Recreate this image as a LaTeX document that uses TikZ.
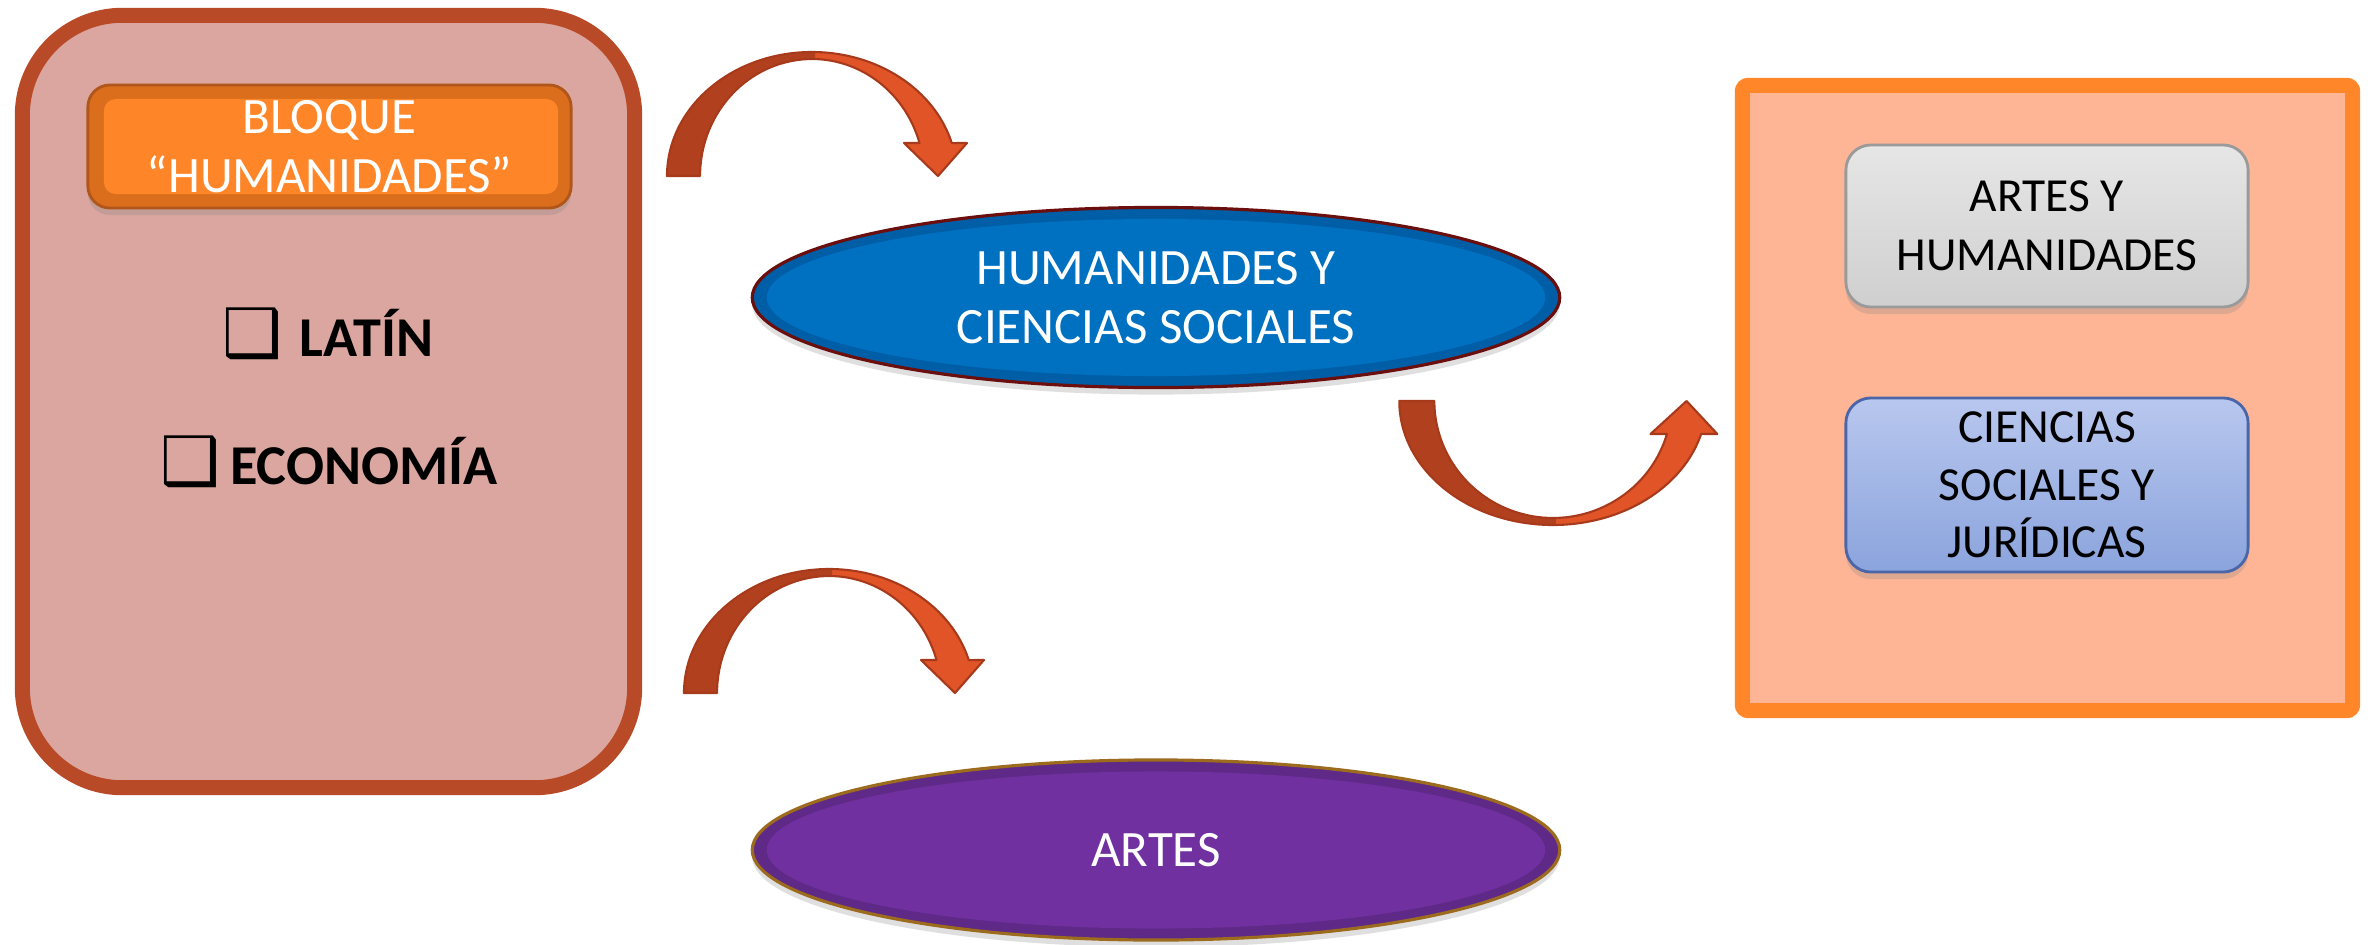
\documentclass[tikz,border=0pt]{standalone}
\usepackage{fontspec}
\setmainfont{Carlito}
\newfontfamily\symfont{DejaVu Sans}
\usetikzlibrary{shapes.geometric,shadows}
\definecolor{lbfill}{HTML}{DBA69F}
\definecolor{lbdraw}{HTML}{B84A28}
\definecolor{blqrim}{HTML}{DA6E1C}
\definecolor{blqin}{HTML}{FF8628}
\definecolor{blqline}{HTML}{B0561A}
\definecolor{arrdarkc}{HTML}{B0401E}
\definecolor{arrlightc}{HTML}{E05428}
\definecolor{arrlinec}{HTML}{A83A1C}
\definecolor{blring}{HTML}{005EA6}
\definecolor{blin}{HTML}{0070C0}
\definecolor{bldraw}{HTML}{6A0E0E}
\definecolor{puring}{HTML}{5F2987}
\definecolor{puin}{HTML}{7030A0}
\definecolor{pudraw}{HTML}{9C6B1E}
\definecolor{rbfill}{HTML}{FDB596}
\definecolor{rbdraw}{HTML}{FF8629}
\definecolor{grtop}{HTML}{E6E6E6}
\definecolor{grbot}{HTML}{CFCFCF}
\definecolor{grdraw}{HTML}{9A9A9A}
\definecolor{bxtop}{HTML}{B8C7EE}
\definecolor{bxbot}{HTML}{8BA4DD}
\definecolor{bxdraw}{HTML}{4A66A8}
\newcommand\mycurvepath{(-145,0) arc[start angle=180,end angle=344.6,x radius=145,y radius=124] -- (155,-33) -- (126,0) -- (92,-33) -- (107.5,-33) arc[start angle=343.6,end angle=180,x radius=112,y radius=117] -- cycle}
\newcommand\boxglyph{{\symfont\mdseries\fontsize{19}{19}\selectfont ❑}}
\begin{document}
\begin{tikzpicture}[x=0.01cm,y=-0.01cm,
  softshadow/.style={drop shadow={opacity=0.25,shadow xshift=0pt,shadow yshift=-2pt}},
  leftbox/.style={draw=lbdraw,fill=lbfill,line width=0.15cm,rounded corners=1cm,minimum width=6.12cm,minimum height=7.72cm,inner sep=0pt},
  bloquebox/.style={rounded corners=0.22cm,minimum width=4.83cm,minimum height=1.23cm,fill=blqrim,draw=blqline,line width=0.8pt,softshadow,
    text=white,align=center,font=\fontsize{14.5}{16.6}\selectfont,
    path picture={\fill[blqin,rounded corners=0.12cm] ([xshift=0.16cm,yshift=-0.14cm]path picture bounding box.north west) rectangle ([xshift=-0.13cm,yshift=0.14cm]path picture bounding box.south east);}},
  itemtext/.style={font=\fontsize{16}{19}\selectfont\bfseries,inner sep=0pt},
  ovalbase/.style={ellipse,line width=0.9pt,minimum width=8.07cm,minimum height=1.80cm,inner sep=0pt,softshadow,
    text=white,align=center,font=\fontsize{14.5}{16.8}\selectfont},
  blueoval/.style={ovalbase,draw=bldraw,fill=blring,
    path picture={\fill[blin] (path picture bounding box.center) ellipse [x radius=3.89cm,y radius=0.785cm];}},
  purpleoval/.style={ovalbase,draw=pudraw,fill=puring,
    path picture={\fill[puin] (path picture bounding box.center) ellipse [x radius=3.89cm,y radius=0.785cm];}},
  rightbox/.style={draw=rbdraw,fill=rbfill,line width=0.15cm,rounded corners=0.06cm,minimum width=6.10cm,minimum height=6.25cm,inner sep=0pt},
  greybox/.style={rounded corners=0.25cm,top color=grtop,bottom color=grbot,draw=grdraw,line width=0.8pt,minimum width=4.02cm,minimum height=1.62cm,
    align=center,font=\fontsize{13.5}{16.7}\selectfont,softshadow},
  bluebox/.style={rounded corners=0.25cm,top color=bxtop,bottom color=bxbot,draw=bxdraw,line width=0.8pt,minimum width=4.02cm,minimum height=1.74cm,
    align=center,font=\fontsize{13.5}{16.3}\selectfont,softshadow},
  arrdark/.style={fill=arrdarkc},
  arrlight/.style={fill=arrlightc},
  arrline/.style={draw=arrlinec,line width=0.6pt,line join=round},
  curvearrow/.pic={
    \fill[arrlight] \mycurvepath;
    \begin{scope}
      \clip (-200,-150) rectangle (3,20);
      \fill[arrdark] \mycurvepath;
    \end{scope}
    \draw[arrline] \mycurvepath;
  }
]
\fill[white] (0,0) rectangle (2374,945);
\useasboundingbox (0,0) rectangle (2374,945);

% left block
\node[leftbox] (leftbox) at (328.5,401.5) {};
\node[bloquebox] (bloque) at (329.5,146.5) {BLOQUE\\“HUMANIDADES”};
\node[itemtext,anchor=base] (latin) at (328,356) {\boxglyph\hspace{0.3em}LATÍN};
\node[itemtext,anchor=base] (economia) at (329,484) {\boxglyph\hspace{0.18em}ECONOMÍA};

% ovals
\node[blueoval] (humcs) at (1156,297.5) {HUMANIDADES Y\\CIENCIAS SOCIALES};
\node[purpleoval] (artes) at (1156,850) {ARTES};

% right block
\node[rightbox] (rightbox) at (2047.5,398) {};
\node[greybox] (arteshum) at (2047,226) {ARTES Y\\HUMANIDADES};
\node[bluebox] (ccsoc) at (2047,485) {CIENCIAS\\SOCIALES Y\\JURÍDICAS};

% curved block arrows
\pic at (812,176) {curvearrow};
\pic[xscale=1.06,yscale=-1] at (1553,401) {curvearrow};
\pic at (829,693) {curvearrow};
\end{tikzpicture}
\end{document}
